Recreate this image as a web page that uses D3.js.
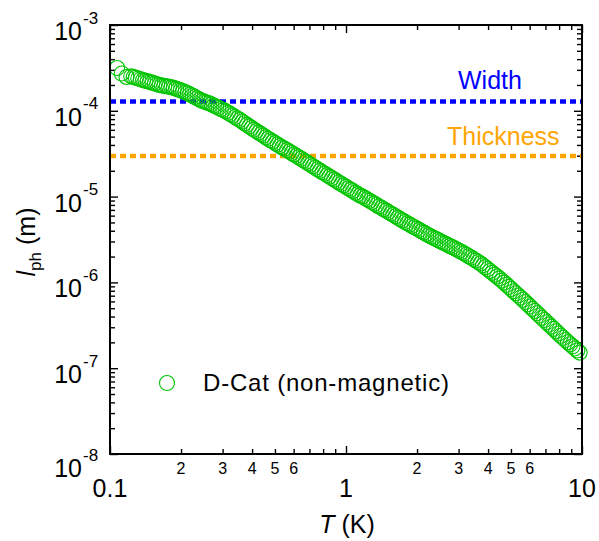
<!DOCTYPE html>
<html><head><meta charset="utf-8">
<script src="https://cdn.jsdelivr.net/npm/d3@7"></script>
<style>
body{margin:0;background:#fff}
text{font-family:"Liberation Sans",Arial,Helvetica,sans-serif;fill:#000}
</style>
</head><body><svg id="c" width="599" height="541"></svg>
<script>
// ---- data ----
const temperature = [
0.1072,0.1122,0.1175,0.1230,
0.1259,0.1288,0.1318,0.1349,0.1380,0.1413,0.1445,0.1479,0.1514,0.1549,
0.1585,0.1622,0.1660,0.1698,0.1738,0.1778,0.1820,0.1862,0.1905,0.1950,
0.1995,0.2042,0.2089,0.2138,0.2188,0.2239,0.2291,0.2344,0.2399,0.2455,
0.2512,0.2570,0.2630,0.2692,0.2754,0.2818,0.2884,0.2951,0.3020,0.3090,
0.3162,0.3236,
0.3311,0.3388,0.3467,0.3548,0.3631,
0.3715,0.3802,0.3890,0.3981,0.4074,0.4169,0.4266,0.4365,0.4467,0.4571,
0.4677,0.4786,0.4898,0.5012,0.5129,0.5248,0.5370,0.5495,0.5623,0.5754,
0.5888,0.6026,0.6166,0.6310,0.6457,0.6607,0.6761,0.6918,0.7079,0.7244,
0.7413,0.7586,0.7762,0.7943,0.8128,0.8318,0.8511,0.8710,0.8913,0.9120,
0.9333,0.9550,0.9772,1.000,1.023,1.047,1.072,1.096,1.122,1.148,
1.175,1.202,1.230,1.259,1.288,1.318,1.349,1.380,1.413,1.445,
1.479,1.514,1.549,1.585,1.622,1.660,1.698,1.738,1.778,1.820,
1.862,1.905,1.950,1.995,2.042,
2.089,2.138,2.188,2.239,2.291,2.344,2.399,2.455,2.512,2.570,
2.630,2.692,2.754,2.818,2.884,2.951,3.020,3.090,3.162,3.236,
3.311,3.388,3.467,3.548,3.631,3.715,3.802,3.890,3.981,4.074,
4.169,4.266,4.365,4.467,4.571,4.677,4.786,4.898,5.012,5.129,
5.248,5.370,5.495,
5.623,5.754,5.888,6.026,6.166,6.310,6.457,6.607,6.761,6.918,
7.079,7.244,7.413,7.586,7.762,7.943,8.128,8.318,8.511,8.710,
8.913,9.120,9.333,9.550,9.772];
const phononMFP = [
3.15e-4,2.72e-4,2.48e-4,2.52e-4,
2.47e-4,2.43e-4,2.38e-4,2.33e-4,2.28e-4,2.24e-4,2.20e-4,2.17e-4,2.12e-4,2.08e-4,
2.04e-4,2.00e-4,1.97e-4,1.95e-4,1.93e-4,1.91e-4,1.88e-4,1.85e-4,1.81e-4,1.77e-4,
1.73e-4,1.69e-4,1.64e-4,1.60e-4,1.55e-4,1.50e-4,1.45e-4,1.40e-4,1.35e-4,1.31e-4,
1.28e-4,1.25e-4,1.22e-4,1.19e-4,1.15e-4,1.12e-4,1.08e-4,1.05e-4,1.02e-4,9.86e-5,
9.50e-5,9.16e-5,
8.81e-5,8.47e-5,8.14e-5,7.83e-5,7.49e-5,
7.16e-5,6.86e-5,6.58e-5,6.30e-5,6.04e-5,5.80e-5,5.57e-5,5.35e-5,5.13e-5,4.92e-5,
4.72e-5,4.54e-5,4.37e-5,4.20e-5,4.04e-5,3.89e-5,3.74e-5,3.61e-5,3.48e-5,3.35e-5,
3.22e-5,3.10e-5,2.98e-5,2.87e-5,2.76e-5,2.65e-5,2.55e-5,2.45e-5,2.35e-5,2.26e-5,
2.17e-5,2.08e-5,2.00e-5,1.92e-5,1.85e-5,1.78e-5,1.71e-5,1.64e-5,1.58e-5,1.52e-5,
1.46e-5,1.40e-5,1.35e-5,1.30e-5,1.25e-5,1.20e-5,1.16e-5,1.11e-5,1.07e-5,1.03e-5,
9.98e-6,9.62e-6,9.27e-6,8.93e-6,8.61e-6,8.29e-6,7.98e-6,7.68e-6,7.40e-6,7.13e-6,
6.87e-6,6.60e-6,6.35e-6,6.12e-6,5.89e-6,5.67e-6,5.46e-6,5.26e-6,5.06e-6,4.89e-6,
4.72e-6,4.55e-6,4.39e-6,4.24e-6,4.09e-6,
3.94e-6,3.80e-6,3.67e-6,3.55e-6,3.43e-6,3.32e-6,3.22e-6,3.12e-6,3.02e-6,2.92e-6,
2.83e-6,2.74e-6,2.66e-6,2.58e-6,2.50e-6,2.42e-6,2.34e-6,2.26e-6,2.18e-6,2.10e-6,
2.02e-6,1.95e-6,1.87e-6,1.80e-6,1.73e-6,1.66e-6,1.58e-6,1.50e-6,1.43e-6,1.36e-6,
1.29e-6,1.23e-6,1.17e-6,1.11e-6,1.05e-6,9.93e-7,9.39e-7,8.87e-7,8.37e-7,7.89e-7,
7.46e-7,7.05e-7,6.65e-7,
6.27e-7,5.90e-7,5.56e-7,5.23e-7,4.92e-7,4.64e-7,4.37e-7,4.11e-7,3.86e-7,3.64e-7,
3.43e-7,3.23e-7,3.05e-7,2.87e-7,2.70e-7,2.54e-7,2.39e-7,2.26e-7,2.13e-7,2.01e-7,
1.90e-7,1.80e-7,1.70e-7,1.61e-7,1.52e-7];
const seriesName = "D-Cat (non-magnetic)";
const refNames = ["Width", "Thickness"];
const refValues = [1.28e-4, 2.97e-5];
const xMajorTicks = [0.1, 1, 10];
const xMajorLabels = ["0.1", "1", "10"];
const xMinorLabeled = [0.2, 0.3, 0.4, 0.5, 0.6, 2, 3, 4, 5, 6];
const xMinorLabels = ["2", "3", "4", "5", "6", "2", "3", "4", "5", "6"];
const yMajorTicks = [1e-3, 1e-4, 1e-5, 1e-6, 1e-7, 1e-8];
const yExponents = ["-3", "-4", "-5", "-6", "-7", "-8"];

// ---- styles ----
const green = "#00c400";
const refColors = ["#0000ff", "#ffa500"];
const L = 110, R = 582, T = 25, B = 454;

const svg = d3.select("#c");
svg.append("rect").attr("width", 599).attr("height", 541).attr("fill", "#fff");

const x = d3.scaleLog().domain([0.1, 10]).range([L, R]);
const y = d3.scaleLog().domain([1e-8, 1e-3]).range([B, T]);

const isMajor = v => Math.abs(Math.log10(v) - Math.round(Math.log10(v))) < 1e-6;
const xt = x.ticks(), yt = y.ticks();
const xMin = xt.filter(v => !isMajor(v)), yMin = yt.filter(v => !isMajor(v));

function axisStyle(g) {
  g.select(".domain").remove();
  g.selectAll(".tick line").attr("stroke", "#000").attr("stroke-width", 1.4);
  g.selectAll(".tick text").remove();
}
[[d3.axisBottom, B], [d3.axisTop, T]].forEach(([ax, pos]) => {
  svg.append("g").attr("transform", `translate(0,${pos})`)
    .call(ax(x).tickValues(xMajorTicks).tickSize(-8).tickFormat("")).call(axisStyle);
  svg.append("g").attr("transform", `translate(0,${pos})`)
    .call(ax(x).tickValues(xMin).tickSize(-5).tickFormat("")).call(axisStyle);
});
[[d3.axisLeft, L], [d3.axisRight, R]].forEach(([ax, pos]) => {
  svg.append("g").attr("transform", `translate(${pos},0)`)
    .call(ax(y).tickValues(yMajorTicks).tickSize(-8).tickFormat("")).call(axisStyle);
  svg.append("g").attr("transform", `translate(${pos},0)`)
    .call(ax(y).tickValues(yMin).tickSize(-5).tickFormat("")).call(axisStyle);
});

// reference lines
refValues.forEach((v, i) => {
  svg.append("line").attr("x1", L).attr("x2", R).attr("y1", y(v)).attr("y2", y(v))
    .attr("stroke", refColors[i]).attr("stroke-width", 4.5).attr("stroke-dasharray", "6,4");
});
svg.append("text").attr("x", 458).attr("y", 89).attr("font-size", 25)
  .style("fill", refColors[0]).text(refNames[0]);
svg.append("text").attr("x", 447).attr("y", 145).attr("font-size", 25)
  .style("fill", refColors[1]).text(refNames[1]);

// data
svg.append("g").selectAll("circle").data(temperature).join("circle")
  .attr("cx", d => x(d)).attr("cy", (d, i) => y(phononMFP[i])).attr("r", 7.5)
  .attr("fill", "none").attr("stroke", green).attr("stroke-width", 1.1);

// frame
svg.append("rect").attr("x", L).attr("y", T).attr("width", R - L).attr("height", B - T)
  .attr("fill", "none").attr("stroke", "#000").attr("stroke-width", 2);

// x labels
xMajorTicks.forEach((v, i) => {
  svg.append("text").attr("x", x(v)).attr("y", 497).attr("text-anchor", "middle")
    .attr("font-size", 25).text(xMajorLabels[i]);
});
xMinorLabeled.forEach((v, i) => {
  svg.append("text").attr("x", x(v)).attr("y", 474).attr("text-anchor", "middle")
    .attr("font-size", 16).text(xMinorLabels[i]);
});
// y labels
yMajorTicks.forEach((v, i) => {
  const yy = y(v) + (i === yMajorTicks.length - 1 ? 8 : 0);
  svg.append("text").attr("x", 82).attr("y", yy + 15).attr("text-anchor", "end")
    .attr("font-size", 25).text("10");
  svg.append("text").attr("x", 83).attr("y", yy - 1.5)
    .attr("font-size", 17).text(yExponents[i]);
});

// axis titles
const xt1 = svg.append("text").attr("x", 347).attr("y", 533).attr("text-anchor", "middle").attr("font-size", 25);
xt1.append("tspan").style("font-style", "italic").text("T");
xt1.append("tspan").text(" (K)");

const yt1 = svg.append("text").attr("transform", "translate(35,242) rotate(-90)")
  .attr("text-anchor", "middle").attr("font-size", 25);
yt1.append("tspan").style("font-style", "italic").text("l");
yt1.append("tspan").attr("dy", 6).attr("font-size", 17).text("ph");
yt1.append("tspan").attr("dy", -6).text(" (m)");

// legend
svg.append("circle").attr("cx", 167).attr("cy", 383).attr("r", 7.5)
  .attr("fill", "none").attr("stroke", green).attr("stroke-width", 1.1);
svg.append("text").attr("x", 203).attr("y", 391).attr("font-size", 24)
  .style("letter-spacing", "0.8px").text(seriesName);
</script>
</body></html>
